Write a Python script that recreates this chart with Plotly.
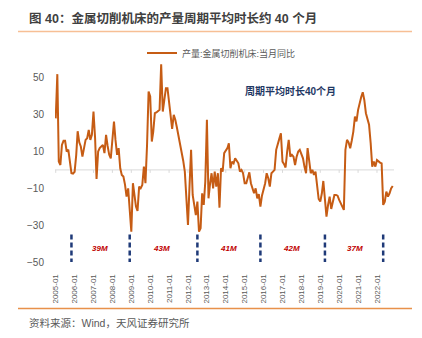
import pandas as pd
import plotly.graph_objects as go

# ---- data ----
start_month = "2005-01-01"
yoy = [
    28, 52, 4.5, 2.7, 13.6, 15.8, 15.8, 10, 11, 4,
    -1.8, -2, -1, 8, 21, 15, 12.7, 7.2, 12, 16.3,
    17.2, 21.7, 16.3, 19, 31.7, 17.2, -4.9, 10, 11.8, 12.5,
    13.6, 9.1, 19, 13, 8.2, 6.3, 16, 26.3, 16.3, 8.2,
    11.8, 0.9, -2.7, -3.6, -8, -14.5, -10, -22.6, -33.5, -7.2,
    -15, -19.9, -22.3, -9.1, -10, -8.2, 1.8, -7.2, 13.6, 42.6,
    39.9, 15.4, 20.8, 30.8, 31.2, 31.7, 32.6, 57.4, 31.7, 38,
    44.4, 44.4, 36, 29.9, 22.3, 29.9, 27.2, 23, 19, 14.5,
    10.9, 5, -0.9, -13.6, -29.9, -8, 10.9, -13.6, -19, -24.5,
    -17.2, -33.5, -31.7, -12.7, -19, -6.3, 27.2, -15.4, -8, -1.8,
    -10, -0.9, -9.1, -1.8, -20.5, 0.9, -0.9, 9.1, 10.5, 11.8,
    14.5, 0.9, 4.5, 3.6, 6.3, 4.5, 3.6, -0.9, 0, -1.8,
    -7.2, -7.2, -4, -1.3, -7.2, -10, -12.7, -10, -15.4, -13.2,
    -19.9, -14, -10.9, -7.2, -1.8, -4.5, -9.1, -1.8, -0.9, 0,
    10.9, 14.5, 17, 19.9, 4.5, 3.1, 1.3, 10, 16.3, 7.2,
    8.2, 7.2, 2.7, 7.2, 10, 10.9, 8, 6.3, 1.8, -1.8,
    11.8, 5.4, -1.8, 0, -2.7, -0.9, -9.1, -15.8, -17.2, -12.7,
    -6, -15.4, -25.4, -19, -14.5, -21.2, -17.2, -13.6, -13.6, -14,
    -16.3, -18, -19.9, -21.7, 10.9, 16.3, 15, 11.8, 16, 20.8,
    29, 26.3, 32.6, 37.1, 39.5, 42.2, 38, 30.8, 28.1, 24.5,
    14.5, 1.8, 4.5, 1.8, 5.4, 4.5, 4, 3.6, -19, -17.2,
    -11.8, -14.5, -12.7, -10, -8.7,
]
series_name = "产量:金属切削机床:当月同比"
cycle_marks = ["2005-11-01", "2008-12-01", "2012-07-01", "2015-11-01", "2019-04-01", "2022-05-01"]
cycle_labels = ["39M", "43M", "41M", "42M", "37M"]
cycle_label_pos = ["2007-05-01", "2010-08-01", "2014-03-01", "2017-07-01", "2020-11-01"]
year_ticks = [f"{y}-01-01" for y in range(2005, 2023)]
year_ticktext = [f"{y}-01" for y in range(2005, 2023)]
y_ticks = [-50, -30, -10, 10, 30, 50]

dates = pd.date_range(start_month, periods=len(yoy), freq="MS")

FONT = "Liberation Sans, Arial, Noto Sans CJK SC, sans-serif"
W, H = 422, 338
L, R, T, B = 55, 394, 41, 262


def px(xp):
    return (xp - L) / (R - L)


def py(yp):
    return (B - yp) / (B - T)


fig = go.Figure()
fig.add_trace(go.Scatter(
    x=dates, y=yoy, mode="lines", name=series_name,
    line=dict(color="#c65c14", width=2),
))

shapes = []
shapes.append(dict(type="line", xref="paper", yref="y", x0=0, x1=1, y0=0, y1=0,
                   line=dict(color="#d9d9d9", width=1), layer="below"))
for d in year_ticks:
    shapes.append(dict(type="line", xref="x", yref="y", x0=d, x1=d, y0=0, y1=-1.6,
                       line=dict(color="#d9d9d9", width=1), layer="below"))
for d in cycle_marks:
    shapes.append(dict(type="line", xref="x", yref="y", x0=d, x1=d, y0=-35, y1=-50,
                       line=dict(color="#1f3a78", width=2.5, dash="5px,3px")))
shapes.append(dict(type="line", xref="paper", yref="paper",
                   x0=px(18), x1=px(412), y0=py(31.5), y1=py(31.5),
                   line=dict(color="#f7bf95", width=1.5)))
shapes.append(dict(type="line", xref="paper", yref="paper",
                   x0=px(18), x1=px(412), y0=py(308.5), y1=py(308.5),
                   line=dict(color="#e8914a", width=1.5)))

annotations = []
for txt, d in zip(cycle_labels, cycle_label_pos):
    annotations.append(dict(x=d, y=-42.4, xref="x", yref="y", text=f"<b><i>{txt}</i></b>",
                            xanchor="center", showarrow=False,
                            font=dict(family=FONT, size=8, color="#c00000")))
annotations.append(dict(x=px(290), y=py(91), xref="paper", yref="paper",
                        xanchor="center", yanchor="middle",
                        text="<b>周期平均时长40个月</b>", showarrow=False,
                        font=dict(family=FONT, size=10, color="#1f3864")))
annotations.append(dict(x=px(27), y=py(19), xref="paper", yref="paper",
                        xanchor="left", yanchor="middle",
                        text="<b>图 40：金属切削机床的产量周期平均时长约 40 个月</b>", showarrow=False,
                        font=dict(family=FONT, size=12.5, color="#404040")))
annotations.append(dict(x=px(27), y=py(323), xref="paper", yref="paper",
                        xanchor="left", yanchor="middle",
                        text="资料来源：Wind，天风证券研究所", showarrow=False,
                        font=dict(family=FONT, size=10.5, color="#595959")))

fig.update_layout(
    width=W, height=H,
    margin=dict(l=L, r=W - R, t=T, b=H - B, pad=0, autoexpand=False),
    paper_bgcolor="white", plot_bgcolor="white",
    font=dict(family=FONT, color="#595959"),
    showlegend=True,
    legend=dict(x=px(142), y=py(53),
                xanchor="left", yanchor="middle", orientation="h",
                font=dict(family=FONT, size=9, color="#595959"),
                bgcolor="rgba(0,0,0,0)"),
    shapes=shapes,
    annotations=annotations,
    xaxis=dict(
        type="date", range=["2004-12-18", "2022-11-26"],
        tickvals=year_ticks, ticktext=year_ticktext, tickangle=-90,
        tickfont=dict(family=FONT, size=8, color="#595959"),
        showgrid=False, zeroline=False, showline=False,
        ticks="outside", ticklen=8, tickcolor="rgba(0,0,0,0)",
    ),
    yaxis=dict(
        range=[-50, 70], tickvals=y_ticks,
        tickfont=dict(family=FONT, size=10, color="#595959"),
        showgrid=False, zeroline=False, showline=False,
        ticks="outside", ticklen=8, tickcolor="rgba(0,0,0,0)",
    ),
)

fig.write_html("out.html")
